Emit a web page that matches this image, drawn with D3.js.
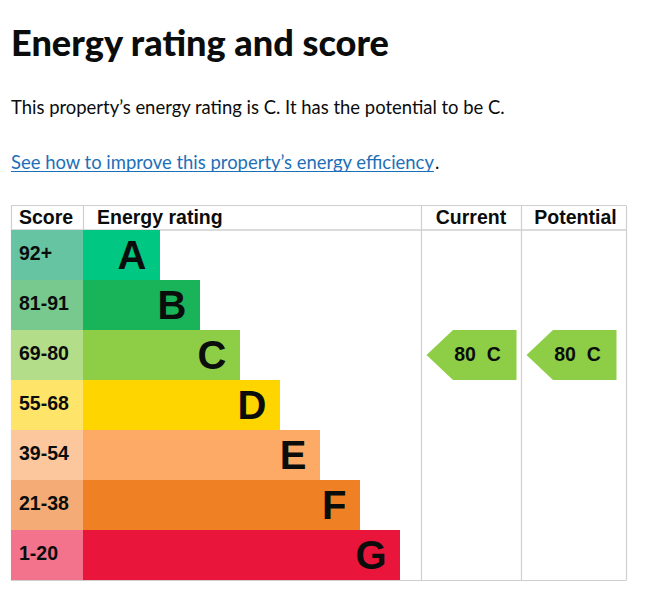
<!DOCTYPE html>
<html><head><meta charset="utf-8">
<script src="https://cdn.jsdelivr.net/npm/d3@7"></script>
<style>body{margin:0;background:#fff}</style>
</head><body><svg id="c" width="670" height="610"></svg>
<script>
// ---- data ----
const ratings = ['A','B','C','D','E','F','G'];
const scoreRanges = ['92+','81-91','69-80','55-68','39-54','21-38','1-20'];
const barColors = ['#00c781','#19b459','#8dce46','#ffd500','#fcaa65','#ef8023','#e9153b'];
const scoreColors = ['#66c4a2','#77c98d','#b3dd88','#ffe46a','#fdc79d','#f4ab75','#f2738b'];
const columnLabels = ['Score','Energy rating','Current','Potential'];
const currentScore = 80, currentRating = 'C';
const potentialScore = 80, potentialRating = 'C';
const titleText = 'Energy rating and score';
const introText = 'This property\u2019s energy rating is ' + currentRating + '. It has the potential to be ' + potentialRating + '.';
const linkText = 'See how to improve this property\u2019s energy efficiency';

// ---- layout ----
const svg = d3.select('#c');
const tableL = 11, tableR = 626, tableT = 205.5, headB = 230, tableB = 580;
const colX = [tableL, 83, 421, 521, tableR];
const lineCol = '#cfcfcf';
const ink = '#0b0c0c';
const tableFont = '"Liberation Sans", Arial, sans-serif';
const bodyFont = 'Lato, "Noto Sans", sans-serif';

const y = d3.scaleBand().domain(ratings).range([headB, tableB]).padding(0);
const barEnd = d3.scalePoint().domain(ratings).range([160, 400]);
const colorOf = d3.scaleOrdinal().domain(ratings).range(barColors);
const scoreColorOf = d3.scaleOrdinal().domain(ratings).range(scoreColors);

function fit(sel, target){
  const w = sel.node().getComputedTextLength();
  const fs = parseFloat(sel.attr('font-size'));
  sel.attr('font-size', fs * target / w);
}

// ---- header texts ----
const title = svg.append('text').attr('x', 11).attr('y', 56)
  .attr('font-family', bodyFont).attr('font-weight', 900).attr('font-size', 32)
  .attr('fill', ink).text(titleText);
fit(title, 378);

const intro = svg.append('text').attr('x', 11).attr('y', 114)
  .attr('font-family', bodyFont).attr('font-size', 18).attr('fill', ink).text(introText);
fit(intro, 494);

const link = svg.append('text').attr('x', 11).attr('y', 169)
  .attr('font-family', bodyFont).attr('font-size', 18).attr('fill', '#1d70b8').text(linkText);
fit(link, 423);
const lw = link.node().getComputedTextLength();
svg.append('line').attr('x1', 11).attr('x2', 11 + lw).attr('y1', 171.5).attr('y2', 171.5)
  .attr('stroke', '#1d70b8').attr('stroke-width', 1.2);
svg.append('text').attr('x', 11 + lw + 1).attr('y', 169)
  .attr('font-family', bodyFont).attr('font-size', link.attr('font-size')).attr('fill', ink).text('.');

// ---- table grid ----
const g = svg.append('g');
g.append('line').attr('x1', tableL).attr('x2', tableR).attr('y1', tableT).attr('y2', tableT).attr('stroke', lineCol);
g.append('line').attr('x1', tableL).attr('x2', tableR).attr('y1', headB).attr('y2', headB).attr('stroke', lineCol).attr('stroke-width', 1.5);
g.append('line').attr('x1', tableL).attr('x2', tableR).attr('y1', tableB + 0.5).attr('y2', tableB + 0.5).attr('stroke', lineCol);
colX.forEach((x, i) => {
  g.append('line').attr('x1', x + 0.5).attr('x2', x + 0.5).attr('y1', tableT).attr('y2', (i === 1) ? headB : tableB + 0.5)
    .attr('stroke', lineCol).attr('stroke-width', 1.2);
});

// header labels
const hdr = [
  {t: columnLabels[0], x: 19, a: 'start'},
  {t: columnLabels[1], x: 97, a: 'start'},
  {t: columnLabels[2], x: (colX[2] + colX[3]) / 2, a: 'middle'},
  {t: columnLabels[3], x: (colX[3] + colX[4]) / 2 + 2, a: 'middle'}
];
svg.selectAll('text.hdr').data(hdr).join('text').attr('class', 'hdr')
  .attr('x', d => d.x).attr('y', 224).attr('text-anchor', d => d.a)
  .attr('font-family', tableFont).attr('font-weight', 700).attr('font-size', 19.5)
  .attr('fill', ink).text(d => d.t);

// ---- rows ----
const rows = svg.selectAll('g.row').data(ratings).join('g').attr('class', 'row');
rows.append('rect').attr('x', colX[0]).attr('y', d => y(d)).attr('width', colX[1] - colX[0]).attr('height', y.bandwidth())
  .attr('fill', d => scoreColorOf(d));
rows.append('rect').attr('x', colX[1]).attr('y', d => y(d)).attr('width', d => barEnd(d) - colX[1]).attr('height', y.bandwidth())
  .attr('fill', d => colorOf(d));
rows.append('text').attr('x', 19).attr('y', d => y(d) + 30)
  .attr('font-family', tableFont).attr('font-weight', 700).attr('font-size', 19.5).attr('fill', ink)
  .text((d, i) => scoreRanges[i]);
rows.append('text').attr('x', d => barEnd(d) - 13.5).attr('y', d => y(d) + 38.8).attr('text-anchor', 'end')
  .attr('font-family', tableFont).attr('font-weight', 700).attr('font-size', 40).attr('fill', ink)
  .text(d => d);

// ---- arrows ----
const arrows = [
  {score: currentScore, rating: currentRating, left: colX[2]},
  {score: potentialScore, rating: potentialRating, left: colX[3]}
];
const ag = svg.selectAll('g.arrow').data(arrows).join('g').attr('class', 'arrow');
ag.append('path').attr('d', d => {
  const t = y(d.rating), b = t + y.bandwidth(), m = (t + b) / 2;
  const x0 = d.left + 5.5, x1 = d.left + 32, x2 = d.left + 95.5;
  return `M${x0},${m}L${x1},${t}L${x2},${t}L${x2},${b}L${x1},${b}Z`;
}).attr('fill', d => colorOf(d.rating));
ag.append('text').attr('x', d => d.left + 56.5).attr('y', d => y(d.rating) + 31)
  .attr('text-anchor', 'middle').attr('xml:space', 'preserve').style('white-space', 'pre')
  .attr('font-family', tableFont).attr('font-weight', 700).attr('font-size', 19.5).attr('fill', ink)
  .text(d => d.score + '  ' + d.rating);
</script></body></html>
